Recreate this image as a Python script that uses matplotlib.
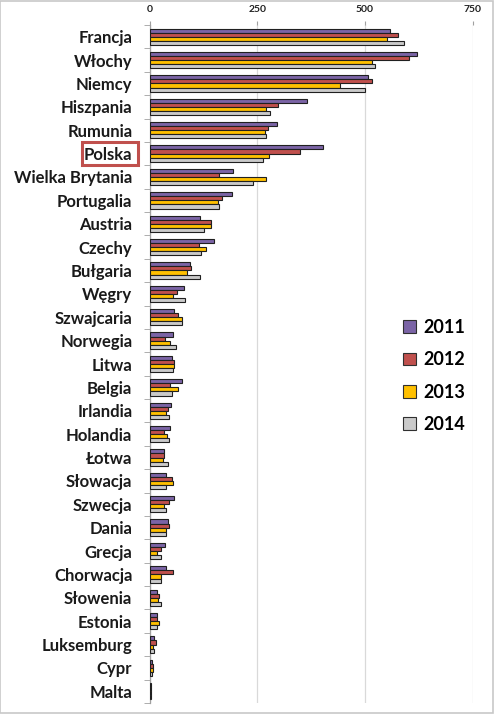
import matplotlib
matplotlib.use("Agg")
import matplotlib.pyplot as plt
from matplotlib.patches import Patch, Rectangle
import numpy as np

countries = ["Francja", "Włochy", "Niemcy", "Hiszpania", "Rumunia", "Polska",
             "Wielka Brytania", "Portugalia", "Austria", "Czechy", "Bułgaria",
             "Węgry", "Szwajcaria", "Norwegia", "Litwa", "Belgia", "Irlandia",
             "Holandia", "Łotwa", "Słowacja", "Szwecja", "Dania", "Grecja",
             "Chorwacja", "Słowenia", "Estonia", "Luksemburg", "Cypr", "Malta"]
v2011 = [559, 621, 507, 365, 296, 403, 193, 192, 117, 150, 94, 80, 56, 53, 51,
         75, 49, 47, 33, 37, 57, 43, 36, 37, 18, 18, 11, 6, 3]
v2012 = [576, 603, 517, 299, 275, 350, 161, 169, 143, 114, 97, 64, 65, 36, 57,
         48, 42, 34, 34, 52, 45, 45, 27, 53, 21, 16, 14, 7, 4]
v2013 = [552, 517, 443, 269, 268, 276, 271, 159, 142, 130, 87, 55, 76, 48, 56,
         66, 39, 41, 31, 55, 34, 37, 16, 27, 19, 21, 8, 7, 3]
v2014 = [590, 522, 500, 280, 271, 262, 239, 160, 126, 118, 117, 81, 74, 61, 55,
         51, 45, 45, 42, 39, 39, 37, 27, 27, 26, 17, 9, 5, 4]
years = ["2011", "2012", "2013", "2014"]
xticks = [0, 250, 500, 750]

colors = ["#7B64A6", "#C0504D", "#FFC000", "#CACACA"]
series = [v2011, v2012, v2013, v2014]

plt.rcParams['font.family'] = ['Lato', 'DejaVu Sans']

fig = plt.figure(figsize=(4.94, 7.14), dpi=100)
n = len(countries)
top_px, bot_px = 25, 703
ax = fig.add_axes([149.7 / 494, 1 - bot_px / 714, (472.7 - 149.7) / 494, (bot_px - top_px) / 714])

y = np.arange(n)
h = 0.175
for i, (vals, c) in enumerate(zip(series, colors)):
    ax.barh(y - 2 * h + h / 2 + i * h, vals, height=h, color=c,
            edgecolor="#202020", linewidth=0.8, label=years[i], zorder=3)

ax.set_xlim(0, 750)
ax.set_ylim(n - 0.5, -0.5)
ax.xaxis.tick_top()
ax.set_xticks(xticks)
ax.set_xticklabels([str(t) for t in xticks], fontsize=7.5, fontweight="bold", color="#222222")
ax.tick_params(axis="x", length=3, color="#A0A0A0", pad=5)
ax.grid(axis="x", color="#D9D9D9", linewidth=0.9, zorder=0)

ax.set_yticks(y)
ax.set_yticklabels(countries, fontsize=12, fontweight="bold", color="#1a1a1a")
ax.tick_params(axis="y", which="major", length=0, pad=12.5)
ax.set_yticks(np.arange(-0.5, n, 1), minor=True)
ax.tick_params(axis="y", which="minor", length=4, color="#A0A0A0")

for s in ["top", "right", "bottom"]:
    ax.spines[s].set_visible(False)
ax.spines["left"].set_color("#A0A0A0")
ax.spines["left"].set_linewidth(0.9)

# Polska highlight box
fig.patches.append(Rectangle((81.7 / 494, 1 - 164.7 / 714), (137.7 - 81.7) / 494,
                             (164.7 - 142) / 714, transform=fig.transFigure,
                             fill=False, edgecolor="#C0504D", linewidth=2.2))

handles = [Patch(facecolor=c, edgecolor="#303030", linewidth=0.8) for c in colors]
leg = fig.legend(handles, years, loc="center left",
                 bbox_to_anchor=(387 / 494, 1 - 376 / 714), frameon=False,
                 prop={"size": 13, "weight": "bold"}, handlelength=0.7,
                 handleheight=0.7, handletextpad=0.4, labelspacing=0.85)

# figure frame
fig.patches.append(Rectangle((0.001, 0.002), 0.997, 0.996, transform=fig.transFigure,
                             fill=False, edgecolor="#C8C8C8", linewidth=1.2))

fig.savefig("out.png", dpi=100)
